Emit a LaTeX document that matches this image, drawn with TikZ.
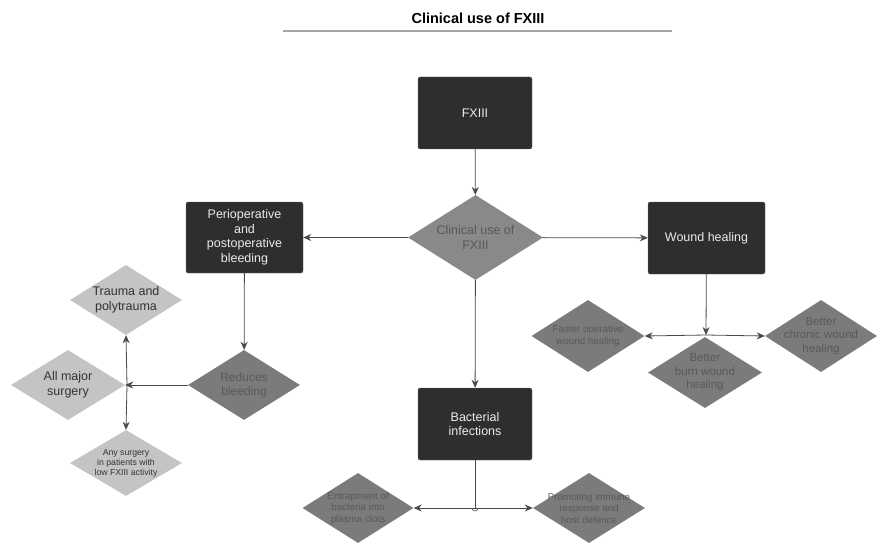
\documentclass[tikz,border=0pt]{standalone}
\usepackage{fontspec}
\setmainfont{Liberation Sans}
\usetikzlibrary{shapes.geometric,arrows.meta}
\definecolor{boxdark}{HTML}{2E2E2E}
\definecolor{diamid}{HTML}{898989}
\definecolor{diadark}{HTML}{7B7B7B}
\definecolor{dialight}{HTML}{C4C4C4}
\definecolor{linegray}{HTML}{4A4A4A}
\begin{document}
\begin{tikzpicture}[x=1pt,y=-1pt,
  darkbox/.style={draw=boxdark!70!white,fill=boxdark,rounded corners=2pt,
    text=white!92!black,align=center,font=\fontsize{12.5}{14.5}\selectfont,inner sep=2pt},
  dia/.style={diamond,inner sep=0pt,draw=none},
  dtext/.style={align=center,text=black!65,inner sep=0pt},
  ltext/.style={align=center,text=black!80,inner sep=0pt},
  conn/.style={draw=linegray,line width=0.8pt,-{Stealth[length=8pt,width=7pt]}},
  plain/.style={draw=linegray,line width=0.8pt}]
\useasboundingbox (0,0) rectangle (880,556);

% heading
\node[font=\bfseries\fontsize{14.5}{16}\selectfont] (title) at (478,18) {Clinical use of FXIII};
\draw[black!35,line width=1.6pt] (283,31) -- (672,31);

% main boxes
\node[darkbox,minimum width=114,minimum height=72] (fx) at (475,113) {FXIII};
\node[darkbox,minimum width=117,minimum height=71,text width=105] (peri) at (244.5,237.5)
  {Perioperative\\and\\postoperative\\bleeding};
\node[darkbox,minimum width=117,minimum height=72] (wound) at (706.5,238) {Wound healing};
\node[darkbox,minimum width=114,minimum height=72] (bact) at (475,424) {Bacterial\\infections};

% central decision
\node[dia,fill=diamid,minimum width=135,minimum height=85,
  label={[dtext,font=\fontsize{12.5}{14.5}\selectfont]center:Clinical use of\\FXIII}] (use) at (475.5,237.5) {};

% bleeding branch
\node[dia,fill=diadark,minimum width=112,minimum height=70,
  label={[dtext,font=\fontsize{12}{14}\selectfont]center:Reduces\\bleeding}] (red) at (244,385) {};
\node[dia,fill=dialight,minimum width=112,minimum height=70,
  label={[ltext,font=\fontsize{12.5}{14.5}\selectfont]center:Trauma and\\polytrauma}] (trauma) at (126,300) {};
\node[dia,fill=dialight,minimum width=114,minimum height=70,
  label={[ltext,font=\fontsize{12.5}{14.5}\selectfont]center:All major\\surgery}] (major) at (68,385) {};
\node[dia,fill=dialight,minimum width=112,minimum height=66,
  label={[ltext,font=\fontsize{8.7}{10}\selectfont]center:Any surgery\\in patients with\\low FXIII activity}] (any) at (126,463) {};

% wound branch
\node[dia,fill=diadark,minimum width=113,minimum height=72,
  label={[dtext,font=\fontsize{9.8}{11.5}\selectfont]center:Faster operative\\wound healing}] (faster) at (588,336) {};
\node[dia,fill=diadark,minimum width=112,minimum height=72,
  label={[dtext,font=\fontsize{11.5}{13.5}\selectfont]center:Better\\chronic wound\\healing}] (chronic) at (821,336) {};
\node[dia,fill=diadark,minimum width=114,minimum height=71,
  label={[dtext,font=\fontsize{11.5}{13.5}\selectfont]center:Better\\burn wound\\healing}] (burn) at (705,372.5) {};

% bacterial branch
\node[dia,fill=diadark,minimum width=111,minimum height=70,
  label={[dtext,font=\fontsize{9.8}{11.5}\selectfont]center:Entrapment of\\bacteria into\\plasma clots}] (entrap) at (358,508) {};
\node[dia,fill=diadark,minimum width=112,minimum height=70,
  label={[dtext,font=\fontsize{9.8}{11.5}\selectfont]center:Promoting immune\\response and\\host defence}] (promo) at (589,508) {};

% junction points
\coordinate (jb) at (127,385);
\coordinate (jw) at (706,335);
\coordinate (jc) at (475,508);

% connectors
\draw[conn] (fx) -- (use);
\draw[conn] (use) -- (peri);
\draw[conn] (use) -- (wound);
\draw[conn] (use) -- (bact);

\draw[conn] (peri) -- (red);
\draw[conn] (red) -- (major);
\draw[conn] (jb) -- (trauma.south);
\draw[conn] (jb) -- (any.north);

\draw[conn] (wound) -- (jw);
\draw[conn] (jw) -- (faster.east);
\draw[conn] (jw) -- (chronic.west);

\draw[plain] (bact) -- (jc);
\draw[conn] (jc) -- (entrap.east);
\draw[conn] (jc) -- (promo.west);
\draw[plain,line width=0.6pt] ([xshift=-3pt]jc) arc[start angle=180,end angle=360,radius=3pt];
\end{tikzpicture}
\end{document}
